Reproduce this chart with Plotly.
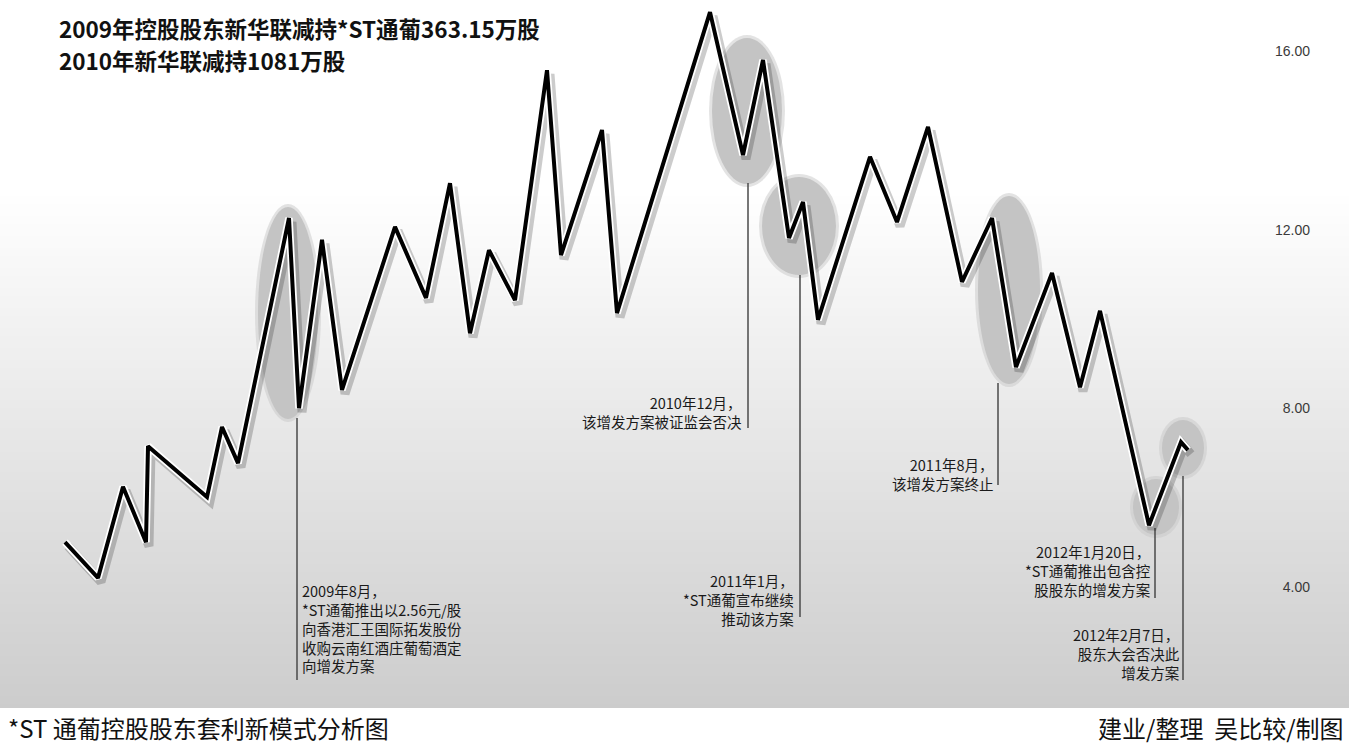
import plotly.graph_objects as go

# ---------------- data ----------------
x_pos = [65, 98, 123, 146, 148, 207, 222, 238, 289, 299, 322, 342, 395, 426, 450, 470,
         489, 515, 547, 561, 602, 617, 710, 743, 763, 789, 803, 818, 870, 897, 928, 962,
         992, 1016, 1052, 1080, 1100, 1149, 1181, 1188]
price = [5.00, 4.20, 6.24, 5.00, 7.15, 6.01, 7.58, 6.77, 12.26, 8.00, 11.77, 8.41, 12.06,
         10.47, 13.04, 9.68, 11.54, 10.42, 15.57, 11.43, 14.23, 10.13, 16.87, 13.67, 15.80,
         11.81, 12.62, 9.98, 13.63, 12.17, 14.30, 10.83, 12.26, 8.92, 11.03, 8.47, 10.18,
         5.38, 7.24, 7.06]

tick_vals = [4, 8, 12, 16]
tick_text = ["4.00", "8.00", "12.00", "16.00"]

title_lines = ["2009年控股股东新华联减持*ST通葡363.15万股", "2010年新华联减持1081万股"]

event_x = [299, 748, 800, 998, 1155, 1183]
event_text = [
    ["2009年8月，", "*ST通葡推出以2.56元/股", "向香港汇王国际拓发股份", "收购云南红酒庄葡萄酒定", "向增发方案"],
    ["2010年12月，", "该增发方案被证监会否决"],
    ["2011年1月，", "*ST通葡宣布继续", "推动该方案"],
    ["2011年8月，", "该增发方案终止"],
    ["2012年1月20日，", "*ST通葡推出包含控", "股股东的增发方案"],
    ["2012年2月7日，", "股东大会否决此", "增发方案"],
]
caption_left = "*ST 通葡控股股东套利新模式分析图"
caption_right = "建业/整理  吴比较/制图"

# ---------------- layout helpers (pixel geometry) ----------------
W, H = 1349, 749
PLOT_H = 708
PX_PER_UNIT = 44.65
Y16 = 51


def py(ypx):  # pixel row -> paper y
    return 1 - ypx / PLOT_H


y_top = 16 + Y16 / PX_PER_UNIT
y_bot = 16 - (PLOT_H - Y16) / PX_PER_UNIT

shapes = []
# gradient background
step = 4
for y0 in range(0, PLOT_H, step):
    ym = y0 + step / 2
    if ym < 190:
        g = 255
    else:
        g = int(round(255 - (ym - 190) / 510 * 50))
    col = f"rgb({g},{g},{g})"
    shapes.append(dict(type="rect", xref="paper", yref="paper", x0=0, x1=1,
                       y0=py(y0 + step), y1=py(y0), fillcolor=col,
                       line=dict(width=0), layer="below"))

# highlight ellipses (cx, cy, rx, ry) in pixels
ellipses = [(288, 313, 30, 106), (747, 111, 35, 73), (799, 226, 37, 49),
            (1009, 290, 31, 94), (1156, 507, 23, 28), (1183, 448, 21, 28)]
for cx, cy, rx, ry in ellipses:
    shapes.append(dict(type="circle", xref="x", yref="paper", x0=cx - rx - 3, x1=cx + rx + 3,
                       y0=py(cy + ry + 3), y1=py(cy - ry - 3), fillcolor="rgba(200,200,200,0.5)",
                       line=dict(width=0), layer="below"))
    shapes.append(dict(type="circle", xref="x", yref="paper", x0=cx - rx, x1=cx + rx,
                       y0=py(cy + ry), y1=py(cy - ry), fillcolor="#c4c4c4",
                       line=dict(width=0), layer="below"))

# leader lines (x, top px, bottom px)
leaders = [(297, 418, 680), (748, 183, 428), (800, 275, 617), (998, 383, 485),
           (1155, 528, 598), (1183, 476, 680)]
for lx, t, b in leaders:
    shapes.append(dict(type="line", xref="x", yref="paper", x0=lx, x1=lx, y0=py(b), y1=py(t),
                       line=dict(color="#4a4a4a", width=1.5), layer="below"))

fig = go.Figure()
shadow_dy = 4 / PX_PER_UNIT
fig.add_trace(go.Scatter(x=[v + 3 for v in x_pos], y=[p - shadow_dy for p in price],
                         mode="lines", line=dict(color="rgba(0,0,0,0.2)", width=9),
                         hoverinfo="skip", showlegend=False))
fig.add_trace(go.Scatter(x=x_pos, y=price, mode="lines",
                         line=dict(color="white", width=7.5), hoverinfo="skip", showlegend=False))
fig.add_trace(go.Scatter(x=x_pos, y=price, mode="lines",
                         line=dict(color="black", width=4), showlegend=False))

annotations = []
CJK = "Noto Sans CJK SC"
# titles
for i, (txt, ypx) in enumerate(zip(title_lines, [28, 60])):
    annotations.append(dict(text=f"<b>{txt}</b>", xref="paper", yref="paper", x=57 / W, y=py(ypx),
                            xanchor="left", yanchor="middle", showarrow=False,
                            font=dict(family=CJK, size=22.5, color="#111")))

# event notes: (anchor x px, align, first line y px)
note_pos = [(301, "left", 589), (743, "right", 401), (795, "right", 579),
            (995, "right", 463), (1152, "right", 550), (1181, "right", 633)]
NOTE_SIZE = 14.5
for (ax, al, y0), lines in zip(note_pos, event_text):
    annotations.append(dict(text="<br>".join(lines), xref="x", yref="paper", x=ax,
                            y=py(y0 - 0.65 * NOTE_SIZE - 1), xanchor=al, yanchor="top",
                            align=al, showarrow=False, borderpad=0,
                            font=dict(family=CJK, size=NOTE_SIZE, color="#1a1a1a")))

# captions
annotations.append(dict(text=caption_left, xref="paper", yref="paper", x=6 / W, y=py(727),
                        xanchor="left", yanchor="middle", showarrow=False,
                        font=dict(family=CJK, size=24, color="#111")))
annotations.append(dict(text=caption_right, xref="paper", yref="paper", x=1346 / W, y=py(727),
                        xanchor="right", yanchor="middle", showarrow=False,
                        font=dict(family=CJK, size=24, color="#111")))

fig.update_layout(
    width=W, height=H,
    margin=dict(l=0, r=0, t=0, b=H - PLOT_H, pad=0),
    paper_bgcolor="white", plot_bgcolor="white",
    shapes=shapes, annotations=annotations,
    xaxis=dict(range=[0, W], visible=False, fixedrange=True),
    yaxis=dict(range=[y_bot, y_top], side="right", ticklabelposition="inside",
               tickvals=tick_vals, ticktext=tick_text, showgrid=False, zeroline=False,
               showline=False, ticks="", ticklabelstandoff=36,
               tickfont=dict(family="Liberation Sans", size=14, color="#3a3a3a")),
    showlegend=False,
)

fig.write_html("out.html")
